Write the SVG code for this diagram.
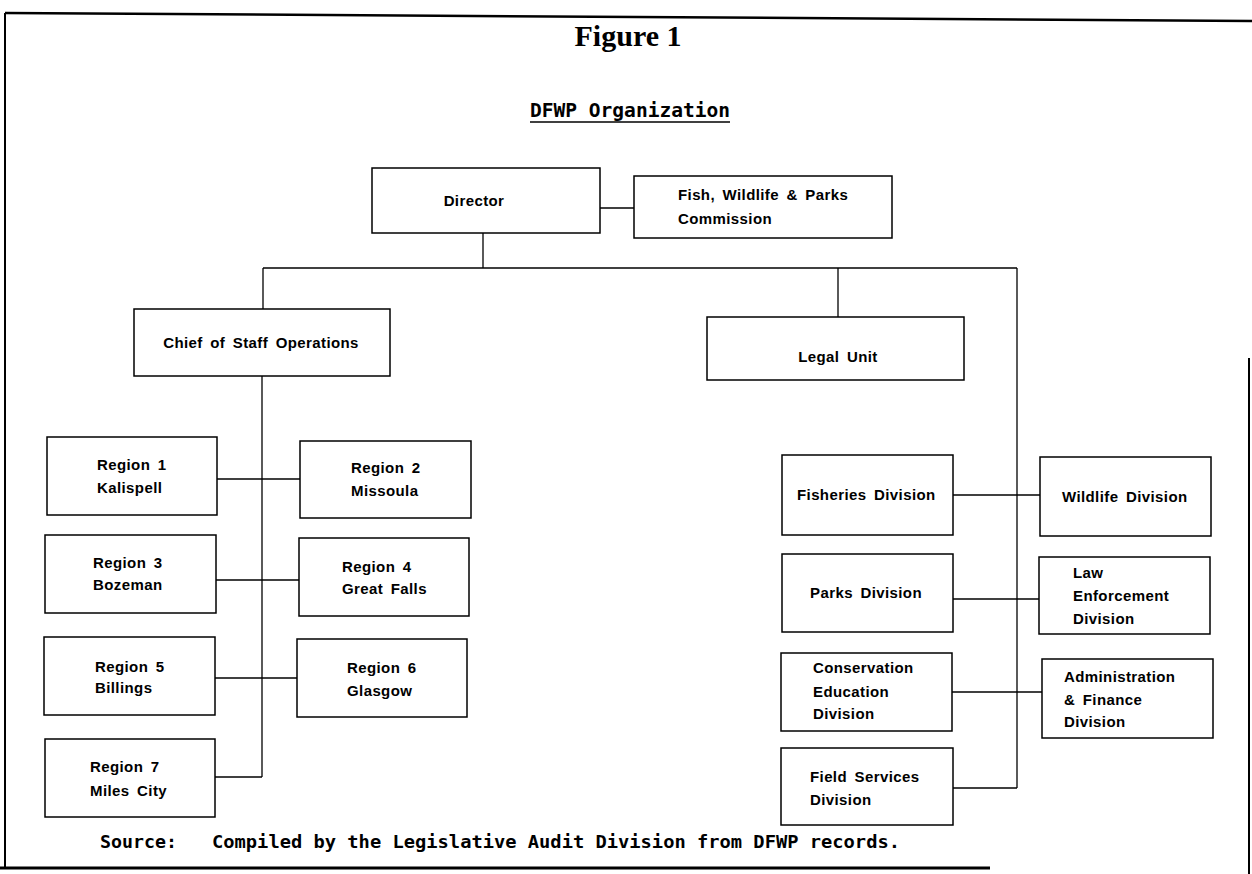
<svg xmlns="http://www.w3.org/2000/svg" width="1252" height="874" viewBox="0 0 1252 874">
<style>
.box{fill:#fff;stroke:#000;stroke-width:1.5}
.t{font-family:"Liberation Sans",Arial,sans-serif;font-weight:bold;font-size:15px;letter-spacing:0.4px;word-spacing:3px;fill:#000}
.c{text-anchor:middle}
.mono{font-family:"DejaVu Sans Mono","Liberation Mono",monospace;font-weight:bold;fill:#000}
.conn{stroke:#000;stroke-width:1.3;fill:none}
.frame{stroke:#000;fill:none}
</style>
<rect width="1252" height="874" fill="#fff"/>
<g id="frame">
<path class="frame" d="M5,13 L1252,21" stroke-width="2.5"/>
<path class="frame" d="M5,13 V868" stroke-width="2"/>
<path class="frame" d="M0,868 H990" stroke-width="3"/>
<path class="frame" d="M1249,358 V874" stroke-width="2"/>
</g>
<g id="title">
<text x="628" y="46" text-anchor="middle" font-family="'Liberation Serif','Times New Roman',serif" font-weight="bold" font-size="30">Figure 1</text>
<text class="mono" x="630" y="117" text-anchor="middle" font-size="19" textLength="200" lengthAdjust="spacingAndGlyphs">DFWP Organization</text>
<line x1="530" y1="122" x2="730" y2="122" stroke="#000" stroke-width="1.5"/>
</g>
<g id="connectors">
<path class="conn" d="M600,208 H634"/>
<path class="conn" d="M483,233 V268"/>
<path class="conn" d="M263,268 H1017"/>
<path class="conn" d="M263,268 V309"/>
<path class="conn" d="M838,268 V317"/>
<path class="conn" d="M1017,268 V788"/>
<path class="conn" d="M262,376 V777"/>
<path class="conn" d="M217,479 H300"/>
<path class="conn" d="M216,580 H299"/>
<path class="conn" d="M215,678 H297"/>
<path class="conn" d="M215,777 H262"/>
<path class="conn" d="M953,495 H1040"/>
<path class="conn" d="M953,599 H1039"/>
<path class="conn" d="M952,692 H1042"/>
<path class="conn" d="M953,788 H1017"/>
</g>
<g id="director">
<rect class="box" x="372" y="168" width="228" height="65"/>
<text class="t c" x="474" y="206">Director</text>
</g>
<g id="commission">
<rect class="box" x="634" y="176" width="258" height="62"/>
<text class="t" x="678" y="200">Fish, Wildlife &amp; Parks</text>
<text class="t" x="678" y="224">Commission</text>
</g>
<g id="chief">
<rect class="box" x="134" y="309" width="256" height="67"/>
<text class="t c" x="261" y="348">Chief of Staff Operations</text>
</g>
<g id="legal">
<rect class="box" x="707" y="317" width="257" height="63"/>
<text class="t c" x="838" y="362">Legal Unit</text>
</g>
<g id="region1">
<rect class="box" x="47" y="437" width="170" height="78"/>
<text class="t" x="97" y="470">Region 1</text>
<text class="t" x="97" y="493">Kalispell</text>
</g>
<g id="region2">
<rect class="box" x="300" y="441" width="171" height="77"/>
<text class="t" x="351" y="473">Region 2</text>
<text class="t" x="351" y="496">Missoula</text>
</g>
<g id="region3">
<rect class="box" x="45" y="535" width="171" height="78"/>
<text class="t" x="93" y="568">Region 3</text>
<text class="t" x="93" y="590">Bozeman</text>
</g>
<g id="region4">
<rect class="box" x="299" y="538" width="170" height="78"/>
<text class="t" x="342" y="572">Region 4</text>
<text class="t" x="342" y="594">Great Falls</text>
</g>
<g id="region5">
<rect class="box" x="44" y="637" width="171" height="78"/>
<text class="t" x="95" y="672">Region 5</text>
<text class="t" x="95" y="693">Billings</text>
</g>
<g id="region6">
<rect class="box" x="297" y="639" width="170" height="78"/>
<text class="t" x="347" y="673">Region 6</text>
<text class="t" x="347" y="696">Glasgow</text>
</g>
<g id="region7">
<rect class="box" x="45" y="739" width="170" height="78"/>
<text class="t" x="90" y="772">Region 7</text>
<text class="t" x="90" y="796">Miles City</text>
</g>
<g id="fisheries">
<rect class="box" x="782" y="455" width="171" height="80"/>
<text class="t" x="797" y="500">Fisheries Division</text>
</g>
<g id="wildlife">
<rect class="box" x="1040" y="457" width="171" height="79"/>
<text class="t" x="1062" y="502">Wildlife Division</text>
</g>
<g id="parks">
<rect class="box" x="782" y="554" width="171" height="78"/>
<text class="t" x="810" y="598">Parks Division</text>
</g>
<g id="law">
<rect class="box" x="1039" y="557" width="171" height="77"/>
<text class="t" x="1073" y="578">Law</text>
<text class="t" x="1073" y="601">Enforcement</text>
<text class="t" x="1073" y="624">Division</text>
</g>
<g id="conservation">
<rect class="box" x="781" y="653" width="171" height="78"/>
<text class="t" x="813" y="673">Conservation</text>
<text class="t" x="813" y="697">Education</text>
<text class="t" x="813" y="719">Division</text>
</g>
<g id="admin">
<rect class="box" x="1042" y="659" width="171" height="79"/>
<text class="t" x="1064" y="682">Administration</text>
<text class="t" x="1064" y="705">&amp; Finance</text>
<text class="t" x="1064" y="727">Division</text>
</g>
<g id="fieldservices">
<rect class="box" x="781" y="748" width="172" height="77"/>
<text class="t" x="810" y="782">Field Services</text>
<text class="t" x="810" y="805">Division</text>
</g>
<g id="source">
<text class="mono" x="100" y="848" font-size="18" textLength="77" lengthAdjust="spacingAndGlyphs">Source:</text>
<text class="mono" x="212" y="848" font-size="18" textLength="688" lengthAdjust="spacingAndGlyphs">Compiled by the Legislative Audit Division from DFWP records.</text>
</g>
</svg>
